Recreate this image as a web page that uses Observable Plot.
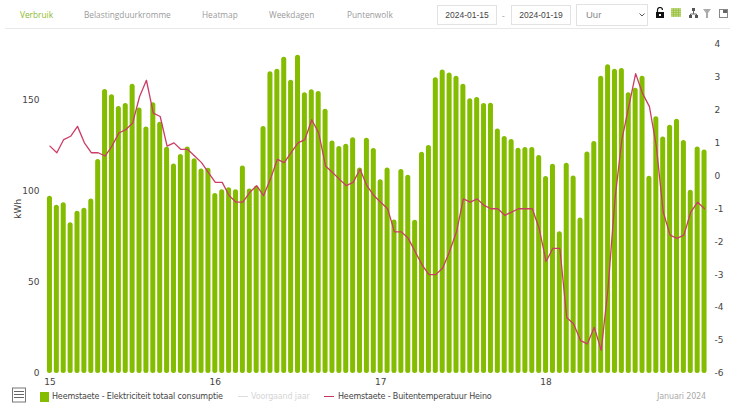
<!DOCTYPE html>
<html>
<head>
<meta charset="utf-8">
<script src="https://cdn.jsdelivr.net/npm/d3@7"></script>
<script src="https://cdn.jsdelivr.net/npm/@observablehq/plot@0.6"></script>
<style>
  html,body{margin:0;padding:0;width:730px;height:404px;overflow:hidden;background:#fff;}
  #bar{position:relative;height:29px;width:730px;}
  #bar .rule{position:absolute;left:5px;right:0;top:28px;height:1px;background:#e8e8e8;}
  .tab{position:absolute;top:9px;font:8.3px/12px "Open Sans",sans-serif;color:#9a9a9a;white-space:nowrap;}
  .box{position:absolute;top:5px;height:18px;border:1px solid #e2e2e2;font:8.5px/18px "Liberation Sans",sans-serif;color:#444;text-align:center;box-sizing:content-box;}
  .ic{position:absolute;top:7px;}
  #chart svg{display:block;}
  #legend{position:relative;height:16px;width:730px;}
  .lt{position:absolute;top:2px;font:8px/13px "DejaVu Sans",sans-serif;color:#444;white-space:nowrap;letter-spacing:-.15px;}
  .sw{position:absolute;}
</style>
</head>
<body>
<div id="bar"></div>
<div id="chart"></div>
<div id="legend"></div>
<script>
const tabs = ["Verbruik","Belastingduurkromme","Heatmap","Weekdagen","Puntenwolk"];
const dateFrom = "2024-01-15";
const dateTo = "2024-01-19";
const interval = "Uur";
const dayLabels = ["15","16","17","18"];
const kwhTicks = [0,50,100,150];
const tempTicks = [-6,-5,-4,-3,-2,-1,0,1,2,3,4];
const seriesBars = "Heemstaete - Elektriciteit totaal consumptie";
const seriesPrev = "Voorgaand jaar";
const seriesTemp = "Heemstaete - Buitentemperatuur Heino";
const period = "Januari 2024";

const kwh = [
 97.1,92.2,93.6,82.6,88.9,90.5,95.6,117.2,155.6,152.7,146.3,147.9,158.5,145.5,135.1,148.3,137.7,124,114.8,119.9,124.1,117.7,112,112.4,
 98.6,100.6,101.8,100.6,113.7,101.1,102.6,135.3,165.3,166.6,173.3,160.7,174.3,153.8,155.4,154.5,144.8,127.4,124.3,125.6,129.1,112.6,128.9,123.2,
 106.2,112.6,84.1,111.7,108.6,83.9,121.2,124.9,162,166.2,164.6,162.9,158.5,150.5,151.2,147.9,148.1,134,129.8,128.2,123.4,123.8,123.8,119.4,
 107.9,114.6,77.7,115.2,108.2,85.2,121.4,127.1,162.9,169.1,166.6,167.1,153.8,156.2,162.9,108.1,140.6,129.5,136,139.3,127.6,100.4,124.1,122.5
];
const temp = [
 0.9,0.7,1.1,1.2,1.5,1.0,0.7,0.7,0.6,0.9,1.3,1.4,1.6,2.4,2.9,1.9,1.8,0.9,1.0,0.8,0.8,0.6,0.4,0.1,
 -0.2,-0.2,-0.6,-0.8,-0.8,-0.5,-0.3,-0.6,-0.1,0.5,0.4,0.7,1.0,1.1,1.7,1.3,0.3,0.1,-0.1,-0.3,-0.2,0.2,-0.3,-0.6,
 -0.8,-1.0,-1.7,-1.7,-1.9,-2.3,-2.7,-3.0,-3.0,-2.8,-2.3,-1.7,-0.7,-0.8,-0.7,-0.9,-1.0,-1.0,-1.2,-1.1,-1.0,-1.0,-1.0,-1.6,
 -2.6,-2.2,-2.2,-4.3,-4.5,-5.0,-5.1,-4.6,-5.3,-3.4,-0.7,1.1,2.1,3.1,2.5,2.1,0.9,-1.1,-1.8,-1.9,-1.8,-1.1,-0.8,-1.0
];

const hours = kwh.map((_, i) => i);
const rows = hours.map(h => ({hour: h, kwh: kwh[h], temp: temp[h]}));
const yMax = 180.5;
const perDegree = yMax / (tempTicks[tempTicks.length-1] - tempTicks[0]);
const tempToY = t => (t - tempTicks[0]) * perDegree;
const yToTemp = y => String(Math.round(y / perDegree + tempTicks[0]));

const axisFont = {fontSize: 9, fontFamily: "DejaVu Sans, sans-serif", fill: "#444"};

const plot = Plot.plot({
  width: 730, height: 359,
  marginLeft: 46, marginRight: 22.5, marginTop: 14.5, marginBottom: 15,
  style: {background: "transparent", fontFamily: "DejaVu Sans, sans-serif", fontSize: "9px", color: "#444"},
  x: {type: "band", domain: hours, paddingInner: 0.27, paddingOuter: 0.135, round: false},
  y: {domain: [0, yMax]},
  marks: [
    Plot.barY(rows, {x: "hour", y: "kwh", fill: "#84bd00", rx: 2.5}),
    Plot.line(rows, {x: "hour", y: d => tempToY(d.temp), stroke: "#cb3d66", strokeWidth: 1.3, curve: "linear"}),
    Plot.axisY({ticks: kwhTicks, tickSize: 0, tickPadding: 7, label: "kWh", labelAnchor: "center", labelArrow: "none", labelOffset: 32, ...axisFont, tickFormat: d => String(d)}),
    Plot.axisY({anchor: "right", ticks: tempTicks.map(tempToY), tickSize: 0, tickPadding: 6.5, label: null, ...axisFont, tickFormat: yToTemp}),
    Plot.axisX({ticks: dayLabels.map((_, i) => i * 24), tickSize: 0, tickPadding: 5, label: null, ...axisFont, tickFormat: h => dayLabels[h / 24]})
  ]
});
document.getElementById("chart").appendChild(plot);

// toolbar
const bar = document.getElementById("bar");
const tabX = [20, 84, 202, 269, 347];
let html = '<div class="rule"></div>';
tabs.forEach((t, i) => {
  html += `<div class="tab" style="left:${tabX[i]}px;${i === 0 ? "color:#8cb92e;" : ""}">${t}</div>`;
});
html += `<div class="box" style="left:437px;width:58px;">${dateFrom}</div>`;
html += `<div class="tab" style="left:502px;top:10px;">-</div>`;
html += `<div class="box" style="left:511px;width:58px;">${dateTo}</div>`;
html += `<div class="box" style="left:576px;top:4px;height:20px;width:70px;text-align:left;text-indent:9px;color:#888;font-size:9.5px;line-height:20px;">${interval}
  <svg style="position:absolute;left:62px;top:8px" width="6" height="4"><path d="M0.5 0.5L3 3L5.5 0.5" fill="none" stroke="#555"/></svg></div>`;
html += `<svg class="ic" style="left:655px" width="10" height="12"><path d="M2.5 5V3a2.5 2.5 0 0 1 5 0" fill="none" stroke="#111" stroke-width="1.2"/><rect x="1" y="5" width="8" height="6" fill="#111"/><rect x="4" y="7" width="2" height="2" fill="#fff"/></svg>`;
html += `<svg class="ic" style="left:671px;top:8px" width="10" height="9"><rect width="10" height="9" fill="#c3d982"/><path d="M0 2.25H10M0 4.5H10M0 6.75H10M2.5 0V9M5 0V9M7.5 0V9" stroke="#8cb92e" stroke-width=".6"/></svg>`;
html += `<svg class="ic" style="left:689px;top:8px" width="9" height="10"><path d="M4.5 2V6M1.5 9V6H7.5V9" fill="none" stroke="#666"/><rect x="3" y="0" width="3" height="3" fill="#555"/><rect x="0" y="7" width="3" height="3" fill="#555"/><rect x="6" y="7" width="3" height="3" fill="#555"/></svg>`;
html += `<svg class="ic" style="left:703px;top:9px" width="8" height="9"><path d="M0 0H8L5 4V9H3V4Z" fill="#aaa"/></svg>`;
html += `<svg class="ic" style="left:719px;top:9px" width="9" height="9"><rect x=".5" y=".5" width="8" height="8" fill="none" stroke="#888"/><rect x="4" y="1" width="4" height="3" fill="#666"/></svg>`;
bar.innerHTML = html;

// legend
document.getElementById("legend").innerHTML = `
  <svg class="sw" style="left:11px;top:-1px" width="16" height="16"><rect x="1.5" y="1" width="13" height="14" fill="#fff" stroke="#777"/><path d="M3 4.5H13M3 7.5H13M3 10.5H13" stroke="#666"/></svg>
  <div class="sw" style="left:40px;top:4px;width:9px;height:10px;background:#84bd00"></div>
  <div class="lt" style="left:52px">${seriesBars}</div>
  <div class="sw" style="left:238px;top:8px;width:10px;height:1px;background:#ddd"></div>
  <div class="lt" style="left:251px;color:#d5d5d5">${seriesPrev}</div>
  <div class="sw" style="left:324px;top:8px;width:10px;height:1px;background:#c8365f"></div>
  <div class="lt" style="left:338px">${seriesTemp}</div>
  <div class="lt" style="right:24px;color:#aaa">${period}</div>`;
</script>
</body>
</html>
